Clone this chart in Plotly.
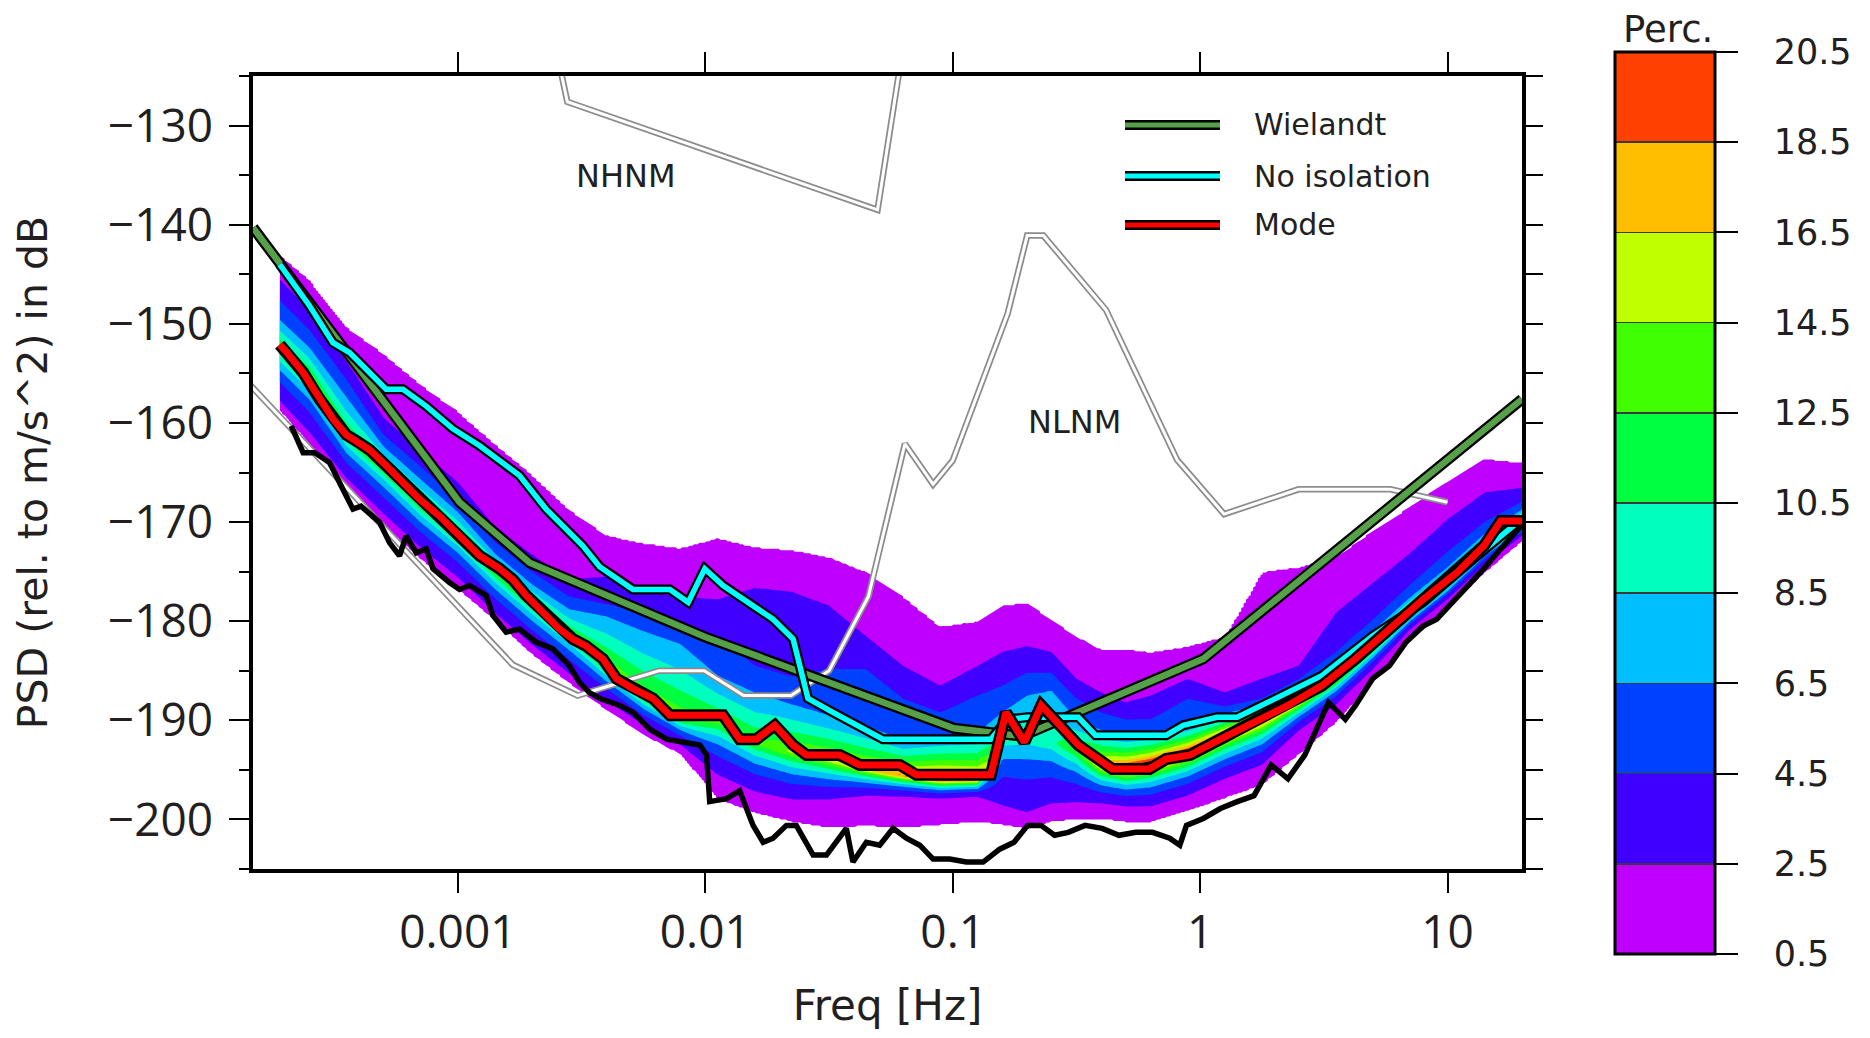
import numpy as np
import plotly.graph_objects as go

# ---------------- data ----------------
# PPSD density: per-frequency profile (dB positions of the contour levels)
pdf_freq = [1.905e-4, 2.512e-4, 3.548e-4, 5.012e-4, 7.079e-4, 1.0e-3, 1.413e-3, 1.995e-3,
            2.818e-3, 3.981e-3, 5.623e-3, 7.943e-3, 1.122e-2, 1.585e-2, 2.239e-2, 3.162e-2,
            4.467e-2, 6.310e-2, 8.913e-2, 0.1259, 0.1585, 0.1995, 0.2512, 0.3162, 0.3981,
            0.5012, 0.6310, 0.8913, 1.259, 1.778, 2.512, 3.548, 5.012, 7.079, 10.0, 14.13, 20.42]
pdf_lo05 = [-158.8, -162.2, -167.0, -170.4, -173.8, -176.8, -180.0, -183.4, -186.3, -189.0,
            -191.5, -193.5, -198.0, -199.4, -200.3, -200.9, -200.7, -200.9, -200.6, -200.3,
            -200.6, -201.0, -200.3, -200.0, -200.0, -200.3, -200.3, -199.2, -197.9, -196.6,
            -193.5, -190.3, -186.2, -182.0, -178.8, -175.2, -171.8]
pdf_lo25 = [-157.8, -161.0, -165.6, -169.2, -172.6, -175.6, -179.2, -182.4, -185.3, -188.0,
            -190.5, -192.5, -195.5, -197.2, -198.0, -198.0, -197.6, -197.7, -197.9, -197.7,
            -198.6, -199.3, -198.4, -198.3, -198.4, -198.7, -198.7, -197.6, -195.9, -194.5,
            -191.0, -188.4, -184.8, -180.8, -177.8, -174.3, -171.2]
pdf_mode = [-152.4, -155.2, -161.2, -164.5, -168.2, -171.3, -175.0, -178.2, -181.2, -184.5,
            -187.5, -189.8, -190.2, -192.3, -193.2, -194.0, -195.0, -195.6, -196.0, -196.0,
            -192.3, -191.5, -192.2, -193.0, -194.5, -194.8, -194.3, -193.2, -191.5, -190.0,
            -188.0, -185.5, -182.3, -179.0, -176.0, -172.4, -169.9]
pdf_peak = [13, 13, 13, 13, 13, 13, 13, 13, 13, 14, 14, 14, 13, 13, 15, 16, 17, 19, 21.5, 20,
            9, 10, 10, 13, 19, 22, 22, 22, 21, 20, 20, 20, 20, 20, 20, 20, 20]
pdf_hi65 = [-149.6, -152.4, -157.4, -162.4, -165.7, -169.0, -173.2, -176.3, -178.8, -179.5,
            -181.0, -182.3, -185.5, -187.2, -188.4, -189.5, -190.6, -192.0, -191.6, -191.3,
            -189.2, -187.5, -187.0, -189.9, -191.0, -191.5, -191.3, -190.5, -189.3, -188.5,
            -186.8, -184.2, -181.0, -177.6, -174.6, -171.2, -168.6]
pdf_hi45 = [-147.6, -150.6, -155.6, -161.2, -164.4, -167.8, -172.0, -175.0, -177.5, -178.3,
            -179.0, -180.3, -181.5, -184.5, -185.6, -184.8, -184.8, -187.8, -189.2, -187.5,
            -186.5, -185.2, -185.2, -187.8, -189.2, -189.9, -189.9, -187.8, -188.6, -187.8,
            -185.8, -183.1, -179.8, -176.3, -173.0, -170.0, -167.8]
pdf_hi25 = [-145.5, -148.6, -153.8, -159.5, -162.8, -166.0, -170.5, -173.3, -175.8, -175.5,
            -177.0, -177.5, -177.8, -176.6, -177.0, -178.4, -181.5, -184.5, -186.5, -184.5,
            -183.1, -182.5, -183.1, -185.8, -187.2, -188.2, -187.5, -185.8, -187.2, -185.8,
            -184.5, -179.1, -176.1, -173.1, -169.7, -167.0, -166.5]
pdf_hi05 = [-143.0, -145.5, -150.3, -153.0, -156.1, -158.8, -162.1, -165.2, -168.7, -171.3,
            -172.1, -172.6, -171.6, -172.5, -172.8, -173.5, -175.0, -177.5, -180.5, -180.0,
            -178.4, -178.1, -179.8, -181.5, -182.8, -182.8, -183.1, -182.5, -181.5, -175.0,
            -174.5, -173.5, -170.8, -168.4, -165.8, -163.6, -164.0]

perc_levels = [0.5, 2.5, 4.5, 6.5, 8.5, 10.5, 12.5, 14.5, 16.5, 18.5, 20.5]
perc_colors = ['#bf00ff', '#4000ff', '#0040ff', '#00bfff', '#00ffbf',
               '#00ff40', '#40ff00', '#bfff00', '#ffbf00', '#ff4000']

# Mode (red)
mode_freq = [1.905e-4, 2.023e-4, 2.366e-4, 2.761e-4, 3.126e-4, 3.540e-4, 3.882e-4, 4.395e-4,
             5.129e-4, 5.998e-4, 6.998e-4, 8.433e-4, 9.550e-4, 1.081e-3, 1.225e-3, 1.472e-3,
             1.667e-3, 1.888e-3, 2.203e-3, 2.576e-3, 2.917e-3, 3.296e-3, 3.855e-3, 4.375e-3,
             5.105e-3, 6.152e-3, 7.194e-3, 1.180e-2, 1.377e-2, 1.611e-2, 1.910e-2, 2.265e-2,
             2.564e-2, 3.491e-2, 4.207e-2, 6.109e-2, 7.129e-2, 0.1426, 0.1641, 0.1950, 0.2280,
             0.3221, 0.4416, 0.6237, 0.7295, 0.9099, 1.208, 1.652, 2.265, 3.105, 4.246, 5.821,
             7.962, 10.91, 14.03, 16.41, 19.23, 20.0]
mode_psd = [-152.1, -152.8, -154.9, -157.6, -159.6, -161.2, -161.8, -162.7, -164.3, -166.0,
            -167.7, -169.4, -170.7, -172.1, -173.4, -174.7, -175.8, -177.4, -179.1, -180.8,
            -181.8, -182.5, -183.8, -185.8, -186.8, -187.8, -189.5, -189.5, -191.9, -191.9,
            -190.5, -192.5, -193.5, -193.5, -194.5, -194.5, -195.5, -195.5, -189.2, -192.2,
            -188.5, -192.5, -194.9, -194.9, -193.9, -193.5, -191.9, -190.2, -188.5, -186.5,
            -183.8, -180.8, -177.8, -175.1, -172.4, -169.9, -169.9, -169.9]

# No isolation (cyan)
iso_freq = [1.905e-4, 2.223e-4, 2.518e-4, 3.126e-4, 3.648e-4, 5.129e-4, 5.998e-4, 7.447e-4,
            9.550e-4, 1.225e-3, 1.567e-3, 1.774e-3, 2.275e-3, 2.917e-3, 3.199e-3, 3.741e-3,
            5.105e-3, 7.194e-3, 8.531e-3, 9.954e-3, 1.180e-2, 1.879e-2, 2.265e-2, 2.410e-2,
            2.600e-2, 3.281e-2, 5.224e-2, 0.1426, 0.1663, 0.2004, 0.3221, 0.3776, 0.7295,
            0.8551, 1.169, 1.413, 2.128, 3.105, 4.977, 7.962, 12.76, 19.23, 20.0]
iso_psd = [-144.0, -146.2, -148.2, -151.9, -152.9, -156.6, -156.6, -158.3, -160.6, -162.3,
           -164.3, -165.3, -168.7, -171.4, -172.4, -174.5, -176.8, -176.8, -178.1, -174.7,
           -176.4, -179.8, -181.8, -184.5, -187.8, -189.2, -191.9, -191.9, -189.9, -189.7,
           -189.7, -191.5, -191.5, -190.5, -189.7, -189.7, -187.5, -185.5, -181.5, -178.1,
           -173.7, -170.0, -170.0]

# Wielandt (green)
wiel_freq = [1.486e-4, 1.016e-3, 1.950e-3, 1.0e-2, 0.1012, 0.1905, 1.030, 20.0]
wiel_psd = [-140.3, -168.0, -174.1, -181.6, -190.8, -191.6, -183.8, -157.6]

# lowest observed PSD (black)
min_freq = [2.12e-4, 2.37e-4, 2.64e-4, 3.03e-4, 3.43e-4, 3.77e-4, 4.06e-4, 4.33e-4, 4.82e-4,
            5.30e-4, 5.81e-4, 6.18e-4, 6.79e-4, 7.45e-4, 7.93e-4, 9.25e-4, 1.016e-3, 1.114e-3,
            1.300e-3, 1.384e-3, 1.567e-3, 1.774e-3, 2.070e-3, 2.421e-3, 2.825e-3, 3.105e-3,
            3.404e-3, 3.750e-3, 4.519e-3, 5.105e-3, 5.970e-3, 6.966e-3, 8.128e-3, 9.506e-3,
            1.012e-2, 1.042e-2, 1.219e-2, 1.377e-2, 1.560e-2, 1.714e-2, 1.879e-2, 2.128e-2,
            2.333e-2, 2.729e-2, 3.090e-2, 3.388e-2, 3.715e-2, 3.954e-2, 4.477e-2, 5.070e-2,
            5.741e-2, 6.501e-2, 7.362e-2, 8.337e-2, 9.727e-2, 0.1135, 0.1327, 0.1549, 0.1770,
            0.2009, 0.2275, 0.2582, 0.2931, 0.3428, 0.4018, 0.4699, 0.5495, 0.6427, 0.7534,
            0.8279, 0.8810, 1.030, 1.208, 1.413, 1.652, 1.936, 2.265, 2.649, 3.304, 3.864,
            4.246, 4.977, 5.821, 6.808, 7.962, 9.036, 10.23, 12.00, 14.03, 16.41, 19.23, 20.0]
min_psd = [-160.3, -163.0, -163.0, -164.0, -166.7, -168.7, -168.4, -169.0, -170.0, -172.1,
           -173.4, -171.4, -173.1, -172.7, -174.7, -176.1, -176.8, -176.4, -177.4, -179.4,
           -181.1, -180.8, -182.1, -182.8, -184.5, -186.2, -187.2, -187.8, -188.5, -189.2,
           -190.9, -191.9, -192.2, -192.5, -193.5, -198.2, -197.9, -197.1, -200.6, -202.3,
           -201.9, -200.6, -200.6, -203.6, -203.6, -202.3, -200.9, -204.3, -202.3, -202.6,
           -200.9, -201.9, -202.6, -204.0, -204.0, -204.3, -204.3, -203.0, -202.3, -200.6,
           -200.6, -201.6, -201.3, -200.6, -200.9, -201.6, -201.3, -201.3, -201.9, -202.6,
           -200.6, -199.9, -198.9, -198.2, -197.6, -194.5, -195.9, -193.5, -188.2, -189.9,
           -188.5, -185.8, -184.5, -182.1, -180.5, -179.8, -178.4, -176.4, -174.7, -172.7,
           -170.7, -170.3]

# Peterson noise models
nlnm_freq = [1.0e-4, 1.667e-3, 3.049e-3, 6.494e-3, 9.901e-3, 1.429e-2, 2.222e-2, 3.165e-2,
             4.566e-2, 6.410e-2, 8.333e-2, 0.1, 0.1667, 0.2, 0.2326, 0.4167, 0.8065, 1.25,
             2.5, 5.882, 10.0]
nlnm_psd = [-151.9, -184.4, -187.5, -185.0, -185.0, -187.5, -187.5, -185.0, -177.5, -162.1,
            -166.2, -163.8, -149.0, -141.1, -141.1, -148.6, -163.7, -169.2, -166.7, -166.7,
            -168.0]
nhnm_freq = [2.58e-3, 2.77e-3, 4.97e-2, 6.49e-2]
nhnm_psd = [-124.0, -127.6, -138.5, -120.0]

x_ticks = [0.001, 0.01, 0.1, 1, 10]
x_ticktext = ['0.001', '0.01', '0.1', '1', '10']
y_ticks = [-200, -190, -180, -170, -160, -150, -140, -130]
y_ticktext = ['\u2212200', '\u2212190', '\u2212180', '\u2212170', '\u2212160', '\u2212150',
              '\u2212140', '\u2212130']
legend_names = ['Wielandt', 'No isolation', 'Mode']
legend_colors = ['#55a048', '#00ffff', '#ff0000']

# ---------------- build density grid from the profiles ----------------
lf_cols = np.log10(pdf_freq)
lf_grid = np.linspace(lf_cols[0], lf_cols[-1], 520)
y_grid = np.arange(-206.0, -123.9, 0.15)
prof = [pdf_lo05, pdf_lo25, pdf_mode, pdf_hi65, pdf_hi45, pdf_hi25, pdf_hi05]
Z = np.zeros((len(y_grid), len(lf_grid)))
for j, lx in enumerate(lf_grid):
    pts = [np.interp(lx, lf_cols, arr) for arr in prof]
    pk = np.interp(lx, lf_cols, pdf_peak)
    zl = np.log([0.5, 2.5, pk, 6.5, 4.5, 2.5, 0.5])
    col = np.exp(np.interp(y_grid, pts, zl))
    col[(y_grid < pts[0]) | (y_grid > pts[-1])] = 0.0
    Z[:, j] = col

# contour fill colours: background(white), 10 bands, >20.5 (black)
fill_cols = ['#ffffff'] + perc_colors + ['#000000']
nb = len(fill_cols)
pdf_scale = []
for k, c in enumerate(fill_cols):
    pdf_scale.append([max(0.0, (k - 0.5) / (nb - 1)), c])
    pdf_scale.append([min(1.0, (k + 0.5) / (nb - 1)), c])

# colour bar scale (10 discrete bands with thin separators)
sep, d = '#3a3a3a', 0.0009
cb_scale = []
for k, c in enumerate(perc_colors):
    a, b = k / 10, (k + 1) / 10
    if k > 0:
        cb_scale += [[a, sep], [a + d, sep], [a + d, c]]
    else:
        cb_scale += [[a, c]]
    if k < 9:
        cb_scale += [[b - d, c], [b - d, sep]]
    else:
        cb_scale += [[b, c]]

fig = go.Figure()
fig.add_trace(go.Contour(
    x=10 ** lf_grid, y=y_grid, z=Z, autocontour=False,
    contours=dict(start=perc_levels[0], end=perc_levels[-1], size=2,
                  coloring='fill', showlines=False),
    line=dict(width=0), colorscale=pdf_scale, showscale=False, hoverinfo='skip'))


def double_line(xs, ys):
    fig.add_trace(go.Scatter(x=xs, y=ys, mode='lines', hoverinfo='skip',
                             line=dict(color='#8c8c8c', width=6.5)))
    fig.add_trace(go.Scatter(x=xs, y=ys, mode='lines', hoverinfo='skip',
                             line=dict(color='white', width=3)))


def cased_line(xs, ys, color, name, w_out, w_in):
    fig.add_trace(go.Scatter(x=xs, y=ys, mode='lines', hoverinfo='skip',
                             line=dict(color='black', width=w_out)))
    fig.add_trace(go.Scatter(x=xs, y=ys, mode='lines', name=name,
                             line=dict(color=color, width=w_in)))


double_line(nlnm_freq, nlnm_psd)
double_line(nhnm_freq, nhnm_psd)
fig.add_trace(go.Scatter(x=min_freq, y=min_psd, mode='lines', name='Minimum',
                         line=dict(color='black', width=5.5)))
cased_line(wiel_freq, wiel_psd, legend_colors[0], legend_names[0], 11, 6.5)
cased_line(iso_freq, iso_psd, legend_colors[1], legend_names[1], 10, 5.5)
cased_line(mode_freq, mode_psd, legend_colors[2], legend_names[2], 12, 7)

# plot-area geometry (page has an 8 px body margin)
PL, PR, PT, PB = 253, 1522, 76, 869
PW, PH = PR - PL, PB - PT

# colour bar carrier
fig.add_trace(go.Scatter(
    x=[None], y=[None], mode='markers', yaxis='y2', hoverinfo='skip', showlegend=False,
    marker=dict(color=[perc_levels[0]], cmin=perc_levels[0], cmax=perc_levels[-1],
                colorscale=cb_scale, showscale=True,
                colorbar=dict(x=(1615 - PL) / PW, xanchor='left',
                              y=(PB - 503) / PH, yanchor='middle', len=902, lenmode='pixels',
                              thickness=100, thicknessmode='pixels', xpad=0, ypad=0,
                              outlinewidth=3, outlinecolor='black',
                              ticks='outside', ticklen=22, tickwidth=2, tickcolor='black',
                              tickvals=perc_levels,
                              ticktext=['\u2002\u00a0' + str(v) for v in perc_levels],
                              tickfont=dict(family='DejaVu Sans', size=35, color='#231f20')))))

txt = '#231f20'
fig.update_layout(
    width=1862, height=1022, showlegend=False,
    margin=dict(l=PL - 8, r=1870 - PR, t=PT - 8, b=1022 - (PB - 8), autoexpand=False),
    plot_bgcolor='white', paper_bgcolor='white',
    font=dict(family='DejaVu Sans', color=txt),
    xaxis=dict(type='log', range=[np.log10(1.486e-4), np.log10(20.0)],
               tickvals=x_ticks, ticktext=x_ticktext, ticks='outside', ticklen=20,
               tickwidth=2, tickcolor='black', showline=True, linewidth=3.5,
               linecolor='black', mirror='ticks', showgrid=False, zeroline=False,
               tickfont=dict(family='Open Sans', size=46, color=txt),
               title=dict(text='Freq [Hz]', font=dict(family='DejaVu Sans', size=42, color=txt),
                          standoff=46)),
    yaxis=dict(range=[-205, -125], tickvals=y_ticks, ticktext=y_ticktext, ticks='outside',
               ticklen=20, tickwidth=2, tickcolor='black', showline=True, linewidth=3.5,
               linecolor='black', mirror=True, showgrid=False, zeroline=False,
               ticklabelstandoff=7,
               minor=dict(ticks='outside', ticklen=10, tickwidth=2, tickcolor='black',
                          tick0=-125, dtick=5, showgrid=False),
               tickfont=dict(family='Open Sans', size=46, color=txt),
               title=dict(text='PSD (rel. to m/s^2) in dB',
                          font=dict(family='DejaVu Sans', size=41, color=txt), standoff=48)),
    yaxis2=dict(overlaying='y', side='right', range=[-205, -125], tick0=-125, dtick=5,
                ticks='outside', ticklen=20, tickwidth=2, tickcolor='black',
                showticklabels=False, showgrid=False, zeroline=False, showline=False),
)

# legend drawn as layout decorations
leg_px_y = [125, 176, 225]
for name, color, py in zip(legend_names, legend_colors, leg_px_y):
    yy = (PB - py) / PH
    x0, x1 = (1125 - PL) / PW, (1220 - PL) / PW
    fig.add_shape(type='line', xref='paper', yref='paper', x0=x0, x1=x1, y0=yy, y1=yy,
                  line=dict(color='black', width=10))
    fig.add_shape(type='line', xref='paper', yref='paper', x0=x0, x1=x1, y0=yy, y1=yy,
                  line=dict(color=color, width=5))
    fig.add_annotation(text=name, xref='paper', yref='paper', x=(1252 - PL) / PW, y=yy,
                       xanchor='left', yanchor='middle', showarrow=False,
                       font=dict(family='DejaVu Sans', size=30, color=txt))

fig.add_annotation(text='NHNM', x=np.log10(0.00477), y=-135.1, showarrow=False,
                   xanchor='center', yanchor='middle',
                   font=dict(family='DejaVu Sans', size=32, color=txt))
fig.add_annotation(text='NLNM', x=np.log10(0.311), y=-159.9, showarrow=False,
                   xanchor='center', yanchor='middle',
                   font=dict(family='DejaVu Sans', size=32, color=txt))
fig.add_annotation(text='Perc.', xref='paper', yref='paper', x=(1668 - PL) / PW,
                   y=(PB - 29) / PH, showarrow=False, xanchor='center', yanchor='middle',
                   font=dict(family='DejaVu Sans', size=37, color=txt))

fig.write_html('out.html')
